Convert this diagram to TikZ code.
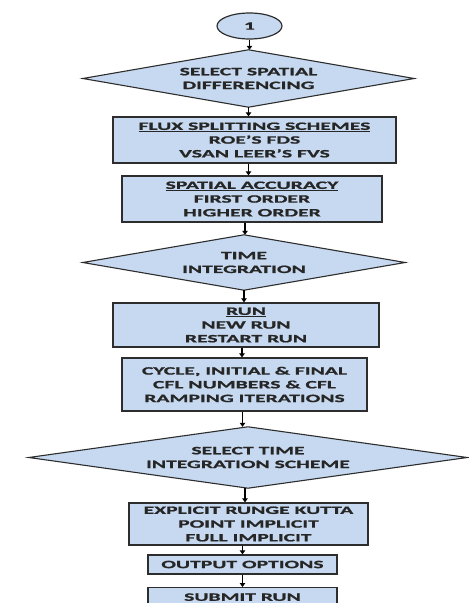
\documentclass[tikz,border=0pt]{standalone}
\usepackage{fontspec}
\newfontfamily\cf[FakeStretch=1.92, BoldFeatures={FakeBold=1.2}]{Carlito}
\usetikzlibrary{shapes.geometric,arrows.meta}
\definecolor{boxfill}{RGB}{198,217,240}
\definecolor{boxline}{RGB}{45,45,45}
\tikzset{
  every node/.style={font=\cf\bfseries\fontsize{11.3}{13.8}\selectfont, text=black!85, align=center, inner sep=0pt},
  procbox/.style={rectangle, draw=boxline, line width=1.3pt, fill=boxfill},
  diabox/.style={rectangle, draw=none},
  diashape/.style={draw=boxline, line width=1.1pt, fill=boxfill, line join=miter},
  conn/.style={draw=black, line width=1.8pt, -{Triangle[length=4pt,width=5.5pt]}},
}
\begin{document}
\begin{tikzpicture}[x=1bp,y=-1bp]
\useasboundingbox (0,0) rectangle (469,603);
\fill[white] (0,0) rectangle (469,603);

% start connector
\node[ellipse, draw=boxline, line width=1.2pt, fill=boxfill, minimum width=65bp, minimum height=26bp] (c1) at (249.5,26) {1};

% diamond 1
\node[diabox, minimum width=331bp, minimum height=57bp] (d1) at (248.5,78.5) {};
\draw[diashape] (d1.north) -- (d1.east) -- (d1.south) -- (d1.west) -- cycle;
\node at (d1.center) {SELECT SPATIAL\\DIFFERENCING};

\node[procbox, minimum width=283bp, minimum height=46bp] (b1) at (254.5,140) {\underline{FLUX SPLITTING SCHEMES}\\ROE’S FDS\\VSAN LEER’S FVS};
\node[procbox, minimum width=260bp, minimum height=46bp] (b2) at (252,199) {\underline{SPATIAL ACCURACY}\\FIRST ORDER\\HIGHER ORDER};

% diamond 2
\node[diabox, minimum width=322bp, minimum height=55bp] (d2) at (244,262.5) {};
\draw[diashape] (d2.north) -- (d2.east) -- (d2.south) -- (d2.west) -- cycle;
\node at (d2.center) {TIME\\INTEGRATION};

\node[procbox, minimum width=266bp, minimum height=44bp] (b3) at (246,325) {\underline{RUN}\\NEW RUN\\RESTART RUN};
\node[procbox, minimum width=245bp, minimum height=53bp] (b4) at (244.5,384.5) {CYCLE, INITIAL \& FINAL\\CFL NUMBERS \& CFL\\RAMPING ITERATIONS};

% diamond 3
\node[diabox, minimum width=438bp, minimum height=61bp] (d3) at (248,457.5) {};
\draw[diashape] (d3.north) -- (d3.east) -- (d3.south) -- (d3.west) -- cycle;
\node at (d3.center) {SELECT TIME\\INTEGRATION SCHEME};

\node[procbox, minimum width=239bp, minimum height=42bp] (b5) at (248.5,524) {EXPLICIT RUNGE KUTTA\\POINT IMPLICIT\\FULL IMPLICIT};
\node[procbox, minimum width=189bp, minimum height=19bp] (b6) at (242.5,564.5) {OUTPUT OPTIONS};
\node[procbox, minimum width=189bp, minimum height=19bp, anchor=north] (b7) at (242.5,587) {SUBMIT RUN};

% connectors
\draw[conn] (c1.south) -- (c1.south |- d1.north);
\draw[conn] (d1.south) -- (d1.south |- b1.north);
\draw[conn] ([xshift=-6bp]b1.south) -- ([xshift=-6bp]b1.south |- b2.north);
\draw[conn] ([xshift=-7bp]b2.south) -- ([xshift=-7bp]b2.south |- d2.north);
\draw[conn] (d2.south) -- (d2.south |- b3.north);
\draw[conn] ([xshift=-4bp]b3.south) -- ([xshift=-4bp]b3.south |- b4.north);
\draw[conn] ([xshift=-2bp]b4.south) -- ([xshift=-2bp]b4.south |- d3.north);
\draw[conn] ([xshift=-3bp]d3.south) -- ([xshift=-3bp]d3.south |- b5.north);
\draw[conn] ([xshift=-6bp]b5.south) -- ([xshift=-6bp]b5.south |- b6.north);
\draw[conn] (b6.south) -- (b6.south |- b7.north);
\end{tikzpicture}
\end{document}
